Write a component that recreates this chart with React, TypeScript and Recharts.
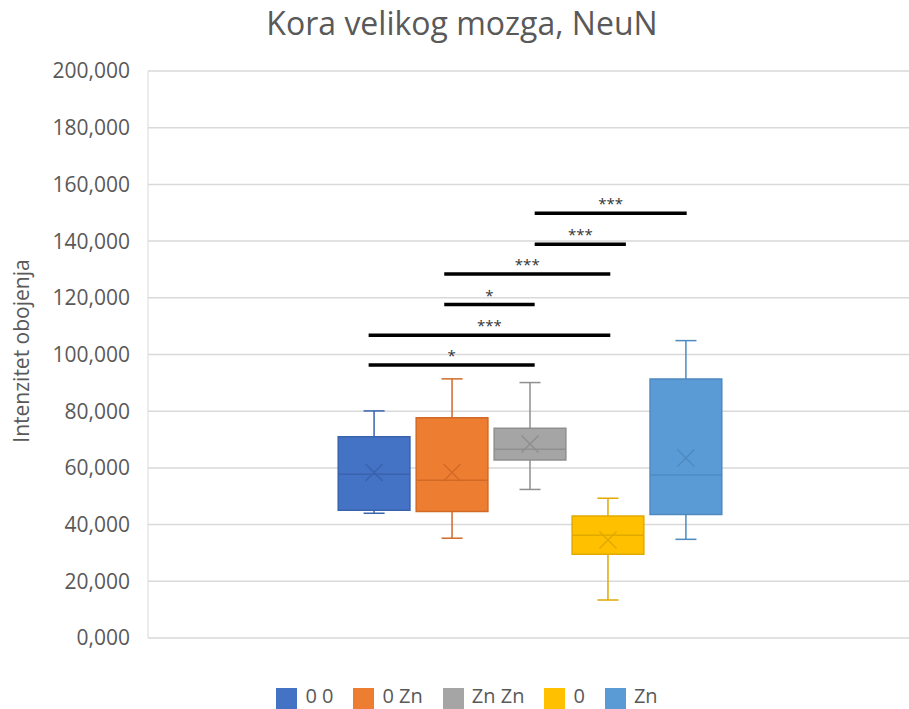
import React from 'react';
import {
  ComposedChart, Scatter, XAxis, YAxis, CartesianGrid, Legend,
  ReferenceArea, ReferenceLine,
} from 'recharts';

// five groups, values in thousands (axis shows 0,000 .. 200,000)
const GROUPS = ['0 0', '0 Zn', 'Zn Zn', '0', 'Zn'];
const WHISKER_MIN = [44.0, 35.2, 52.4, 13.4, 34.8];
const Q1 = [45.1, 44.6, 62.8, 29.5, 43.6];
const MEDIAN = [57.8, 55.6, 66.6, 36.2, 57.5];
const Q3 = [71.0, 77.7, 74.0, 43.0, 91.4];
const WHISKER_MAX = [80.1, 91.4, 90.1, 49.3, 104.9];
const MEAN = [58.4, 58.4, 68.4, 34.6, 63.5];

// significance brackets (x in group index units)
const BRACKET_FROM = [2.06, 2.06, 0.9, 0.9, -0.07, -0.07];
const BRACKET_TO = [4.01, 3.23, 3.03, 2.06, 3.03, 2.06];
const BRACKET_Y = [149.8, 138.9, 128.4, 117.6, 106.8, 96.3];
const BRACKET_LABEL = ['***', '***', '***', '*', '***', '*'];

const Y_TICKS = [0, 20, 40, 60, 80, 100, 120, 140, 160, 180, 200];

const FILLS = ['#4472C4', '#ED7D31', '#A5A5A5', '#FFC000', '#5B9BD5'];
const BORDERS = ['#3A63AE', '#D26A27', '#8F8F8F', '#E2A900', '#4E89C0'];
const TEXT = '#595959';
const HALF_BOX = 0.46;
const HALF_CAP = 0.135;

const fmt = (v: number) => v.toFixed(3).replace('.', ',');

const XMark = (props: any) => {
  const { cx, cy, color } = props;
  const s = 8.5;
  return (
    <path
      d={`M${cx - s},${cy - s}L${cx + s},${cy + s}M${cx + s},${cy - s}L${cx - s},${cy + s}`}
      stroke={color}
      strokeWidth={1.5}
      fill="none"
    />
  );
};

export default function App() {
  const boxes = GROUPS.map((g, i) => {
    const c = BORDERS[i];
    const seg = (x1: number, y1: number, x2: number, y2: number, k: string) => (
      <ReferenceLine
        key={`${g}-${k}`}
        segment={[{ x: x1, y: y1 }, { x: x2, y: y2 }]}
        stroke={c}
        strokeWidth={1.5}
      />
    );
    return [
      seg(i, Q3[i], i, WHISKER_MAX[i], 'wu'),
      seg(i, Q1[i], i, WHISKER_MIN[i], 'wl'),
      seg(i - HALF_CAP, WHISKER_MAX[i], i + HALF_CAP, WHISKER_MAX[i], 'cu'),
      seg(i - HALF_CAP, WHISKER_MIN[i], i + HALF_CAP, WHISKER_MIN[i], 'cl'),
      <ReferenceArea
        key={`${g}-box`}
        x1={i - HALF_BOX}
        x2={i + HALF_BOX}
        y1={Q1[i]}
        y2={Q3[i]}
        fill={FILLS[i]}
        fillOpacity={1}
        stroke={c}
        strokeWidth={1.5}
      />,
      seg(i - HALF_BOX, MEDIAN[i], i + HALF_BOX, MEDIAN[i], 'md'),
    ];
  });

  return (
    <div
      style={{
        position: 'absolute', left: 0, top: 0, width: 909, height: 709,
        overflow: 'hidden', background: '#fff', fontFamily: '"Open Sans", sans-serif',
      }}
    >
      <div
        style={{
          position: 'absolute', top: 1, left: 0, width: 909, paddingLeft: 15, boxSizing: 'border-box',
          textAlign: 'center', fontSize: 32, color: TEXT, whiteSpace: 'nowrap',
        }}
      >
        Kora velikog mozga, NeuN
      </div>
      <div
        style={{
          position: 'absolute', left: 21, top: 351, transform: 'translate(-50%, -50%) rotate(-90deg)',
          fontSize: 21, color: TEXT, whiteSpace: 'nowrap',
        }}
      >
        Intenzitet obojenja
      </div>
      <ComposedChart width={912} height={709} margin={{ top: 71, right: 0, bottom: 71, left: 0 }}>
        <CartesianGrid vertical={false} stroke="#d9d9d9" strokeWidth={1.5} />
        <XAxis type="number" dataKey="x" domain={[-2.9, 6.9]} hide />
        <YAxis
          type="number"
          dataKey="y"
          domain={[0, 200]}
          ticks={Y_TICKS}
          tickFormatter={fmt}
          width={148}
          stroke="#d9d9d9"
          tickLine={false}
          tickSize={0}
          tickMargin={18}
          tick={{ fill: TEXT, fontSize: 21 }}
        />
        {BRACKET_Y.map((y, k) => (
          <ReferenceLine
            key={`br-${k}`}
            segment={[{ x: BRACKET_FROM[k], y }, { x: BRACKET_TO[k], y }]}
            stroke="#000"
            strokeWidth={3.5}
            label={{ value: BRACKET_LABEL[k], position: 'top', offset: 4, fill: '#333', fontSize: 15 }}
          />
        ))}
        {boxes}
        {GROUPS.map((g, i) => (
          <Scatter
            key={g}
            name={g}
            data={[{ x: i, y: MEAN[i] }]}
            dataKey="y"
            fill={FILLS[i]}
            legendType="square"
            isAnimationActive={false}
            shape={(p: any) => <XMark {...p} color={BORDERS[i]} />}
          />
        ))}
        <Legend
          iconSize={21}
          itemSorter={(item: any) => GROUPS.indexOf(item.value)}
          wrapperStyle={{ top: 682, left: 0, width: 954, height: 0 }}
          formatter={(v: string) => (
            <span style={{ color: TEXT, fontSize: 20, marginLeft: 4, marginRight: 10 }}>{v}</span>
          )}
        />
      </ComposedChart>
    </div>
  );
}
